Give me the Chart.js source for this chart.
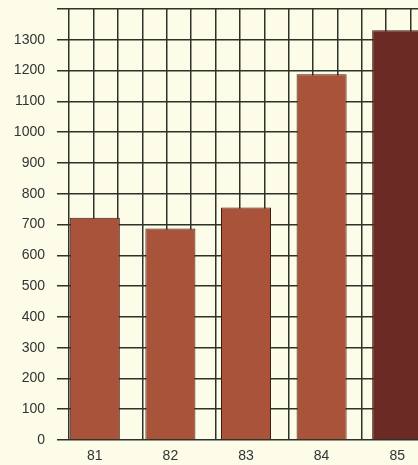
<!DOCTYPE html>
<html>
<head>
<meta charset="utf-8">
<script src="https://cdn.jsdelivr.net/npm/chart.js@4"></script>
<style>
  html, body { margin: 0; padding: 0; background: #fdfce9; overflow: hidden; }
  #wrap { width: 436px; height: 465px; }
</style>
</head>
<body>
<div id="wrap"><canvas id="chart"></canvas></div>
<script>
const years = ['81', '82', '83', '84', '85'];
const values = [722, 687, 755, 1188, 1331];
const barColors = ['#a9533a', '#a9533a', '#a9533a', '#a9533a', '#6c2a25'];
const yTicksMax = 1400;

const gridDark = '#2c3329';

new Chart(document.getElementById('chart'), {
  type: 'bar',
  data: {
    labels: years,
    datasets: [{
      data: values,
      backgroundColor: barColors,
      borderColor: '#3b1c14',
      borderWidth: 1,
      barPercentage: 0.662,
      categoryPercentage: 1
    }]
  },
  options: {
    animation: false,
    responsive: true,
    maintainAspectRatio: false,
    layout: {padding: {top: 9, right: 1, left: 0, bottom: 0}},
    plugins: {legend: {display: false}, tooltip: {enabled: false}},
    scales: {
      x: {
        grid: {display: false, drawTicks: false},
        border: {display: false},
        ticks: {padding: 8, color: '#333', font: {family: 'Liberation Sans', size: 14}},
        afterFit: s => { s.height = 25; s.paddingLeft = 0; s.paddingRight = 0; }
      },
      xg: {
        type: 'linear',
        position: 'top',
        min: 0, max: 30,
        ticks: {display: false, stepSize: 1},
        grid: {
          drawTicks: false,
          lineWidth: 1.5,
          color: c => (c.tick && c.tick.value % 2 === 1) ? gridDark : 'rgba(0,0,0,0)'
        },
        border: {display: false},
        afterFit: s => { s.height = 0; s.paddingLeft = 0; s.paddingRight = 0; }
      },
      y: {
        min: 0, max: yTicksMax,
        ticks: {
          stepSize: 100, padding: 12, color: '#333',
          font: {family: 'Liberation Sans', size: 14},
          callback: v => v === yTicksMax ? '' : v
        },
        grid: {drawTicks: false, lineWidth: 1.5, color: gridDark},
        border: {display: false},
        afterFit: s => { s.width = 57; s.paddingTop = 0; s.paddingBottom = 0; }
      }
    }
  }
});
</script>
</body>
</html>
